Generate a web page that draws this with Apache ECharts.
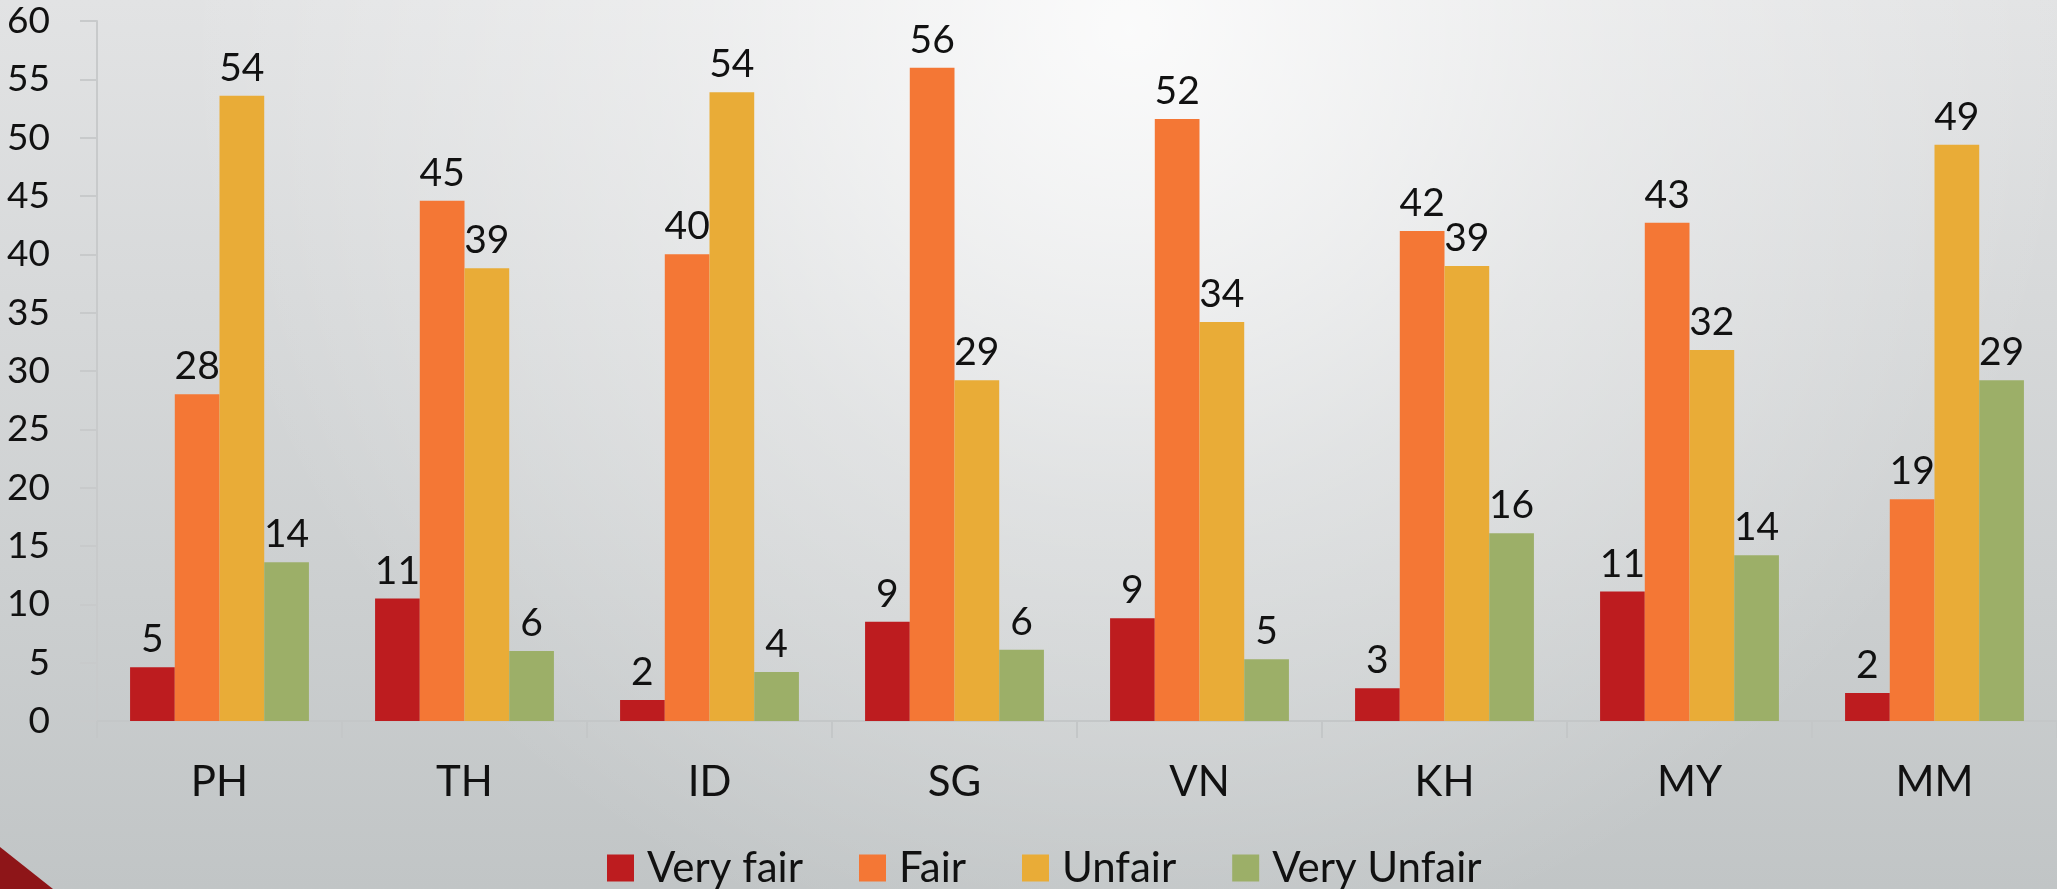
<!DOCTYPE html>
<html>
<head>
<meta charset="utf-8">
<title>Fairness by country</title>
<script src="https://cdn.jsdelivr.net/npm/echarts@6/dist/echarts.min.js"></script>
<style>
  html, body { margin: 0; padding: 0; }
  #chart { width: 2057px; height: 889px; }
</style>
</head>
<body>
<div id="chart"></div>
<script>
// data
var countries = ["PH", "TH", "ID", "SG", "VN", "KH", "MY", "MM"];
var veryFair = [4.6, 10.5, 1.8, 8.5, 8.8, 2.8, 11.1, 2.4];
var fair = [28.0, 44.6, 40.0, 56.0, 51.6, 42.0, 42.7, 19.0];
var unfair = [53.6, 38.8, 53.9, 29.2, 34.2, 39.0, 31.8, 49.4];
var veryUnfair = [13.6, 6.0, 4.2, 6.1, 5.3, 16.1, 14.2, 29.2];
var seriesNames = ["Very fair", "Fair", "Unfair", "Very Unfair"];
var colors = ["#bd1c1f", "#f47735", "#e9ac37", "#9caf68"];

var myChart = echarts.init(document.getElementById("chart"));

function makeBar(name, data, color) {
  return {
    name: name,
    type: "bar",
    data: data,
    barGap: 0,
    barCategoryGap: "27%",
    itemStyle: { color: color },
    label: {
      show: true,
      position: "top",
      distance: 8,
      color: "#111",
      fontFamily: "Lato",
      fontSize: 39,
      formatter: function (p) {
        return Math.round(p.value);
      }
    }
  };
}

var option = {
  backgroundColor: {
    type: "linear", x: 0, y: 0, x2: 0, y2: 1,
    colorStops: [
      { offset: 0, color: "#e2e3e4" },
      { offset: 1, color: "#c1c5c6" }
    ]
  },
  graphic: [
    {
      type: "rect",
      silent: true,
      z: -10,
      shape: { x: 0, y: 0, width: 2057, height: 889 },
      style: {
        fill: {
          type: "radial", x: 1130, y: 30, r: 950, global: true,
          colorStops: [
            { offset: 0, color: "rgba(255,255,255,0.85)" },
            { offset: 0.5, color: "rgba(255,255,255,0.35)" },
            { offset: 1, color: "rgba(255,255,255,0)" }
          ]
        }
      }
    },
    {
      // red corner triangle
      type: "polygon",
      silent: true,
      shape: { points: [[0, 847], [53, 889], [0, 889]] },
      style: { fill: "#8e1518" }
    }
  ],
  legend: {
    left: 602,
    top: 842,
    itemWidth: 27,
    itemHeight: 27,
    itemGap: 56,
    icon: "rect",
    data: seriesNames,
    textStyle: {
      color: "#111",
      fontFamily: "Lato",
      fontSize: 42,
      padding: [0, 0, 0, 8]
    }
  },
  grid: {
    left: 97,
    top: 21,
    width: 1964,
    height: 700,
    containLabel: false
  },
  xAxis: {
    type: "category",
    data: countries,
    axisLine: { lineStyle: { color: "#c4c7c8", width: 2 } },
    axisTick: { show: true, length: 17, lineStyle: { color: "#c4c7c8", width: 2 } },
    axisLabel: {
      color: "#111",
      fontFamily: "Lato",
      fontSize: 42,
      margin: 40
    }
  },
  yAxis: {
    type: "value",
    min: 0,
    max: 60,
    interval: 5,
    splitLine: { show: false },
    axisLine: { show: true, lineStyle: { color: "#c8cacb", width: 2 } },
    axisTick: { show: true, length: 17, lineStyle: { color: "#c8cacb", width: 2 } },
    axisLabel: {
      color: "#111",
      fontFamily: "Lato",
      fontSize: 37,
      margin: 47
    }
  },
  series: [
    makeBar(seriesNames[0], veryFair, colors[0]),
    makeBar(seriesNames[1], fair, colors[1]),
    makeBar(seriesNames[2], unfair, colors[2]),
    makeBar(seriesNames[3], veryUnfair, colors[3])
  ]
};

myChart.setOption(option);
</script>
</body>
</html>
